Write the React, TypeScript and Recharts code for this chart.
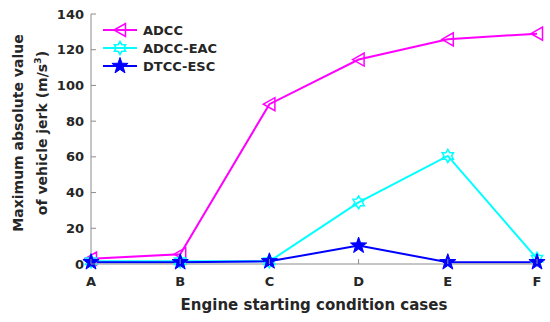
import React from "react";
import { LineChart, Line, XAxis, YAxis } from "recharts";

const categories = ["A", "B", "C", "D", "E", "F"];
const adcc = [3, 5.5, 89.5, 114.5, 125.8, 129];
const adccEac = [1.5, 1.5, 1.5, 34.5, 60.5, 3];
const dtccEsc = [1, 1, 1.5, 10.3, 1, 1];
const yTicks = [0, 20, 40, 60, 80, 100, 120, 140];
const xTicks = [0, 1, 2, 3, 4, 5];

const data = categories.map((c, i) => ({
  x: i,
  adcc: adcc[i],
  adccEac: adccEac[i],
  dtccEsc: dtccEsc[i],
}));

const FONT = "'DejaVu Sans', sans-serif";
const AXIS = "#8c8c8c";
const TXT = "#262626";
const MAGENTA = "#ff00ff";
const CYAN = "#00ffff";
const BLUE = "#0000ff";

function starPoints(cx: number, cy: number, n: number, ro: number, ri: number) {
  const pts: string[] = [];
  for (let k = 0; k < 2 * n; k++) {
    const r = k % 2 === 0 ? ro : ri;
    const a = -Math.PI / 2 + (k * Math.PI) / n;
    pts.push(`${cx + r * Math.cos(a)},${cy + r * Math.sin(a)}`);
  }
  return pts.join(" ");
}

const TriMarker = ({ cx, cy }: any) => (
  <polygon
    points={`${cx - 6},${cy} ${cx + 5.5},${cy - 6.5} ${cx + 5.5},${cy + 6.5}`}
    fill="none"
    stroke={MAGENTA}
    strokeWidth={1.5}
  />
);
const HexMarker = ({ cx, cy }: any) => (
  <polygon points={starPoints(cx, cy, 6, 6.5, 3.8)} fill="none" stroke={CYAN} strokeWidth={1.5} />
);
const StarMarker = ({ cx, cy }: any) => (
  <polygon points={starPoints(cx, cy, 5, 8.5, 3.4)} fill={BLUE} stroke={BLUE} strokeWidth={1} />
);

const BottomTick = ({ x, y, payload }: any) => (
  <g>
    <line x1={x} y1={y - 12} x2={x} y2={y - 17} stroke={AXIS} strokeWidth={1} />
    <text x={x} y={y + 9.5} textAnchor="middle" fontFamily={FONT} fontWeight="bold" fontSize={13} fill={TXT}>
      {categories[payload.value]}
    </text>
  </g>
);
const TopTick = ({ x, y }: any) => (
  <line x1={x} y1={y} x2={x} y2={y + 5} stroke={AXIS} strokeWidth={1} />
);
const LeftTick = ({ x, y, payload }: any) => (
  <g>
    <line x1={x + 7} y1={y} x2={x + 12} y2={y} stroke={AXIS} strokeWidth={1} />
    <text x={x} y={y + 4.5} textAnchor="end" fontFamily={FONT} fontWeight="bold" fontSize={13} fill={TXT}>
      {payload.value}
    </text>
  </g>
);
const RightTick = ({ x, y }: any) => (
  <line x1={x} y1={y} x2={x - 5} y2={y} stroke={AXIS} strokeWidth={1} />
);

const XLabel = ({ viewBox }: any) => (
  <text
    x={viewBox.x + viewBox.width / 2}
    y={viewBox.y + 45.5}
    textAnchor="middle"
    fontFamily={FONT}
    fontWeight="bold"
    fontSize={15}
    fill={TXT}
  >
    Engine starting condition cases
  </text>
);

const YLabel = ({ viewBox }: any) => {
  const cy = viewBox.y + viewBox.height / 2 - 6;
  return (
    <g fontFamily={FONT} fontWeight="bold" fontSize={14} fill={TXT}>
      <text x={23} y={cy} textAnchor="middle" transform={`rotate(-90, 23, ${cy})`}>
        Maximum absolute value
      </text>
      <text x={47} y={cy} textAnchor="middle" transform={`rotate(-90, 47, ${cy})`}>
        of vehicle jerk (m/s
        <tspan fontSize={9.5} dy={-6}>3</tspan>
        <tspan dy={6}>)</tspan>
      </text>
    </g>
  );
};

const legendItems = [
  { name: "ADCC", color: MAGENTA, Marker: TriMarker },
  { name: "ADCC-EAC", color: CYAN, Marker: HexMarker },
  { name: "DTCC-ESC", color: BLUE, Marker: StarMarker },
];

const LegendBox = () => (
  <svg width={200} height={64} style={{ position: "absolute", left: 100, top: 16 }}>
    {legendItems.map((it, i) => {
      const y = 14 + i * 18;
      const M = it.Marker;
      return (
        <g key={it.name}>
          <line x1={3} y1={y} x2={37} y2={y} stroke={it.color} strokeWidth={2} />
          <M cx={20} cy={y} />
          <text x={43} y={y + 4.5} fontFamily={FONT} fontWeight="bold" fontSize={13} fill={TXT}>
            {it.name}
          </text>
        </g>
      );
    })}
  </svg>
);

export default function App() {
  return (
    <div style={{ position: "absolute", left: 0, top: 0, width: 550, height: 322, background: "#fff" }}>
      <LineChart width={550} height={322} data={data} margin={{ top: 14, right: 13, bottom: 0, left: 31 }}>
        <XAxis
          dataKey="x"
          type="number"
          domain={[0, 5]}
          ticks={xTicks}
          height={58}
          tickSize={0}
          tickMargin={12}
          tick={<BottomTick />}
          tickLine={false}
          axisLine={{ stroke: AXIS, strokeWidth: 1 }}
          label={<XLabel />}
          interval={0}
        />
        <XAxis
          xAxisId="top"
          dataKey="x"
          type="number"
          orientation="top"
          domain={[0, 5]}
          ticks={xTicks}
          height={0}
          tickSize={0}
          tickMargin={0}
          tick={<TopTick />}
          tickLine={false}
          axisLine={{ stroke: AXIS, strokeWidth: 1 }}
          interval={0}
        />
        <YAxis
          type="number"
          domain={[0, 140]}
          ticks={yTicks}
          width={60}
          tickSize={0}
          tickMargin={7}
          tick={<LeftTick />}
          tickLine={false}
          axisLine={{ stroke: AXIS, strokeWidth: 1 }}
          label={<YLabel />}
          interval={0}
        />
        <YAxis
          yAxisId="right"
          type="number"
          orientation="right"
          domain={[0, 140]}
          ticks={yTicks}
          width={0}
          tickSize={0}
          tickMargin={0}
          tick={<RightTick />}
          tickLine={false}
          axisLine={{ stroke: AXIS, strokeWidth: 1 }}
          interval={0}
        />
        <Line dataKey="adcc" stroke={MAGENTA} strokeWidth={2} dot={<TriMarker />} activeDot={false} isAnimationActive={false} />
        <Line dataKey="adccEac" stroke={CYAN} strokeWidth={2} dot={<HexMarker />} activeDot={false} isAnimationActive={false} />
        <Line dataKey="dtccEsc" stroke={BLUE} strokeWidth={2} dot={<StarMarker />} activeDot={false} isAnimationActive={false} />
      </LineChart>
      <LegendBox />
    </div>
  );
}
